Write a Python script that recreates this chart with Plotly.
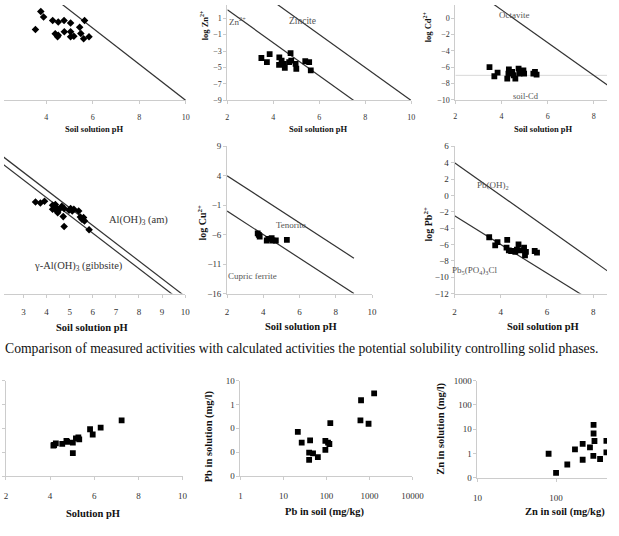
import plotly.graph_objects as go

W, H = 619, 536
FONT = "Liberation Serif, Times New Roman, serif"

# ---------------- data ----------------
# Panel 1 (top-left, ion activity vs pH, diamonds)
p1_ph = [3.77, 3.89, 4.28, 4.52, 4.77, 5.05, 5.65, 3.54, 4.39, 4.52, 4.78, 5.05, 5.44, 5.49, 5.05, 5.19, 5.61, 5.84, 4.49]
p1_log = [-0.42, -1.01, -1.37, -1.54, -1.37, -1.65, -1.37, -2.36, -2.81, -2.96, -2.60, -2.60, -2.11, -2.78, -3.13, -3.07, -3.34, -3.13, -3.13]
p1_line_ph = [2, 10]
p1_line_log = [5.6, -10]

# Panel 2 (log Zn2+)
zn_ph = [3.48, 3.72, 3.84, 4.26, 4.36, 4.25, 4.46, 4.50, 4.69, 4.78, 4.75, 4.97, 5.00, 5.39, 5.56, 5.63]
zn_log = [-3.85, -4.36, -3.37, -3.76, -4.17, -4.68, -4.56, -5.04, -4.36, -4.17, -3.25, -4.56, -5.15, -4.24, -4.36, -5.36]
zn_ion_ph = [2, 7.6]
zn_ion_log = [2.0, -9.2]
zincite_ph = [2, 10]
zincite_log = [7, -9]

# Panel 3 (log Cd2+)
cd_ph = [3.48, 3.83, 3.69, 4.32, 4.30, 4.25, 4.46, 4.53, 4.60, 4.74, 4.78, 4.98, 4.95, 5.38, 5.52, 5.45]
cd_log = [-5.99, -6.67, -7.11, -6.27, -6.79, -7.39, -6.59, -6.99, -7.39, -6.19, -6.79, -6.79, -6.39, -6.79, -6.91, -6.59]
octavite_ph = [2, 9.5]
octavite_log = [5, -10]
soilcd_ph = [2, 9]
soilcd_log = [-7, -7]

# Panel 4 (Al)
al_ph = [3.52, 3.73, 3.91, 4.26, 4.34, 4.40, 4.48, 4.55, 4.66, 4.76, 4.72, 4.76, 4.97, 5.04, 5.11, 5.18, 5.39, 5.46, 5.53, 5.60, 5.64, 5.84, 4.48, 4.26, 4.38]
al_log = [-4.50, -4.67, -4.39, -5.05, -5.60, -5.38, -6.05, -5.76, -5.22, -5.60, -6.99, -8.65, -5.93, -5.60, -6.05, -5.76, -6.05, -7.04, -7.42, -7.16, -7.71, -9.20, -6.33, -5.76, -4.93]
al_am_ph = [2, 10]
al_am_log = [3.5, -20.5]
gibbs_ph = [2, 9.5]
gibbs_log = [2.2, -20.3]

# Panel 5 (log Cu2+)
cu_ph = [3.69, 3.75, 3.80, 4.19, 4.28, 4.46, 4.51, 4.69, 5.30]
cu_log = [-5.78, -6.05, -6.33, -7.0, -6.72, -6.61, -7.0, -7.0, -6.89]
tenorite_ph = [2, 9]
tenorite_log = [4, -10]
cufer_ph = [2, 9]
cufer_log = [-2, -16]

# Panel 6 (log Pb2+)
pb_ph = [3.50, 3.76, 3.86, 4.28, 4.25, 4.35, 4.45, 4.63, 4.70, 4.77, 4.84, 5.01, 5.05, 5.09, 5.47, 5.57]
pb_log = [-5.12, -6.12, -5.72, -5.44, -6.40, -6.72, -6.80, -6.92, -6.64, -6.0, -6.72, -6.40, -7.32, -6.92, -6.80, -7.0]
pboh_ph = [2, 10]
pboh_log = [4, -12]
pyro_ph = [2, 7.65]
pyro_log = [-2.5, -12.4]

# Panel 7 (solution pH)
s_ph = [4.15, 4.26, 4.55, 4.74, 5.03, 5.03, 5.17, 5.28, 5.81, 5.93, 6.29, 7.24, 5.32, 4.18, 4.77]
s_val = [1.28, 1.37, 1.35, 1.47, 1.40, 0.96, 1.58, 1.62, 1.96, 1.74, 2.03, 2.33, 1.54, 1.30, 1.43]

# Panel 8 (Pb soil vs solution)
pb_soil = [21.6, 26.6, 41.7, 39.6, 39.6, 48.8, 63.1, 94.4, 94.4, 109, 117, 123, 638, 617, 953, 1286]
pb_sol = [0.071, 0.025, 0.031, 0.0095, 0.0048, 0.0089, 0.0062, 0.0295, 0.0124, 0.025, 0.022, 0.166, 1.50, 0.214, 0.155, 2.92]

# Panel 9 (Zn soil vs solution)
zn_soil = [80.4, 100, 139, 174, 218, 218, 270, 298, 300, 300, 308, 363, 437, 437]
zn_sol = [0.97, 0.158, 0.35, 1.48, 2.45, 0.55, 1.78, 0.80, 15.1, 6.6, 3.24, 0.59, 3.3, 1.1]

log_tickvals_pb = [0.001, 0.01, 0.1, 1, 10]
log_ticktext_pb = ["0", "0", "0", "1", "10"]
log_tickvals_zn = [0.1, 1, 10, 100, 1000]
log_ticktext_zn = ["0", "1", "10", "100", "1000"]
soil_ticks_pb = [1, 10, 100, 1000, 10000]
soil_ticks_zn = [10, 100, 1000]

caption = ("Comparison of measured activities with calculated activities the potential "
           "solubility controlling solid phases.")

# ---------------- helpers ----------------
def xd(a, b):
    return [max(0, a / W), min(1, b / W)]


def yd(top, bot):
    return [max(0, 1 - bot / H), min(1, 1 - top / H)]


AXC = "#cccccc"


def axis(domain, rng, size, tickvals=None, ticktext=None, typ="linear", anchor=None,
         showlabels=True, standoff=None, visible=True, showline=True):
    d = dict(domain=domain, range=rng, type=typ, showline=showline, linecolor=AXC, linewidth=1,
             ticks="outside" if showline else "", ticklen=3, tickcolor=AXC, showgrid=False,
             zeroline=False, showticklabels=showlabels, visible=visible,
             tickfont=dict(family=FONT, size=size, color="#333"), fixedrange=True)
    if tickvals is not None:
        d["tickmode"] = "array"
        d["tickvals"] = tickvals
        if ticktext is not None:
            d["ticktext"] = ticktext
    if anchor:
        d["anchor"] = anchor
    if standoff is not None:
        d["ticklabelstandoff"] = standoff
    return d


fig = go.Figure()
LC = "#333333"


def pts(x, y, xa, ya, sym, size):
    fig.add_trace(go.Scatter(x=x, y=y, xaxis=xa, yaxis=ya, mode="markers",
                             marker=dict(symbol=sym, size=size, color="black"),
                             showlegend=False, hoverinfo="skip"))


def line(x, y, xa, ya, color=LC, width=1.2):
    fig.add_trace(go.Scatter(x=x, y=y, xaxis=xa, yaxis=ya, mode="lines",
                             line=dict(color=color, width=width),
                             showlegend=False, hoverinfo="skip"))


# Panel 1
line(p1_line_ph, p1_line_log, "x", "y")
pts(p1_ph, p1_log, "x", "y", "diamond", 5.8)
# Panel 2
line(zn_ion_ph, zn_ion_log, "x2", "y2")
line(zincite_ph, zincite_log, "x2", "y2")
pts(zn_ph, zn_log, "x2", "y2", "square", 5.8)
# Panel 3
line(soilcd_ph, soilcd_log, "x3", "y3", color="#d8d8d8", width=1)
line(octavite_ph, octavite_log, "x3", "y3")
pts(cd_ph, cd_log, "x3", "y3", "square", 5.8)
# Panel 4
line(al_am_ph, al_am_log, "x4", "y4")
line(gibbs_ph, gibbs_log, "x4", "y4")
pts(al_ph, al_log, "x4", "y4", "diamond", 5.8)
# Panel 5
line(tenorite_ph, tenorite_log, "x5", "y5")
line(cufer_ph, cufer_log, "x5", "y5")
pts(cu_ph, cu_log, "x5", "y5", "square", 5.8)
# Panel 6
line(pboh_ph, pboh_log, "x6", "y6")
line(pyro_ph, pyro_log, "x6", "y6")
pts(pb_ph, pb_log, "x6", "y6", "square", 5.8)
# Panel 7
pts(s_ph, s_val, "x7", "y7", "square", 5.8)
# Panel 8
pts(pb_soil, pb_sol, "x8", "y8", "square", 5.8)
# Panel 9
pts(zn_soil, zn_sol, "x9", "y9", "square", 5.8)

layout = dict(
    width=W, height=H, margin=dict(l=0, r=0, t=0, b=0),
    paper_bgcolor="white", plot_bgcolor="white", showlegend=False,
    font=dict(family=FONT, color="#333"),
    # Panel 1
    xaxis=axis(xd(0, 186.7), [2.19, 10], 8, [4, 6, 8, 10], anchor="y", standoff=6),
    yaxis=axis(yd(0, 97.3), [-10, 0.29], 8, anchor="x", visible=False),
    # Panel 2
    xaxis2=axis(xd(229.3, 418), [2, 10], 8, [2, 4, 6, 8, 10], anchor="y2", standoff=6),
    yaxis2=axis(yd(0, 97.3), [-9, 2.58], 8, [-9, -7, -5, -3, -1, 1], anchor="x2"),
    # Panel 3
    xaxis3=axis(xd(463.3, 619), [2, 8.57], 8, [2, 4, 6, 8], anchor="y3", standoff=6),
    yaxis3=axis(yd(0, 96.7), [-10, 1.59], 8, [-10, -8, -6, -4, -2, 0], anchor="x3"),
    # Panel 4
    xaxis4=axis(xd(0, 186), [2.156, 10], 9, [3, 4, 5, 6, 7, 8, 9, 10], anchor="y4", standoff=7),
    yaxis4=axis(yd(138, 294), [-20, 5.9], 9, anchor="x4", visible=False),
    # Panel 5
    xaxis5=axis(xd(229, 377.8), [2, 10], 9, [2, 4, 6, 8, 10], anchor="y5", standoff=7),
    yaxis5=axis(yd(144, 294), [-16, 9], 9, [-16, -11, -6, -1, 4, 9], anchor="x5"),
    # Panel 6
    xaxis6=axis(xd(462.5, 619), [2, 8.6], 9, [2, 4, 6, 8], anchor="y6", standoff=7),
    yaxis6=axis(yd(144, 294), [-12, 6], 9, list(range(-12, 7, 2)), anchor="x6"),
    # Panel 7
    xaxis7=axis(xd(2, 183.3), [2, 10], 9, [2, 4, 6, 8, 10], anchor="y7", standoff=8),
    yaxis7=axis(yd(382.7, 480), [0, 4], 9, [0, 1, 2, 3, 4], anchor="x7", showlabels=False),
    # Panel 8
    xaxis8=axis(xd(242.7, 419.3), [0, 4], 9, soil_ticks_pb, [str(v) for v in soil_ticks_pb],
                typ="log", anchor="y8", standoff=8),
    yaxis8=axis(yd(382.7, 480), [-3, 1], 9, log_tickvals_pb, log_ticktext_pb, typ="log", anchor="x8"),
    # Panel 9
    xaxis9=axis(xd(486, 619), [1, 2.648], 9, soil_ticks_zn, [str(v) for v in soil_ticks_zn],
                typ="log", anchor="y9", standoff=8),
    yaxis9=axis(yd(382.7, 481.7), [-1, 3], 9, log_tickvals_zn, log_ticktext_zn, typ="log", anchor="x9"),
)
fig.update_layout(**layout)

ann = []


def txt(text, px, py, size, bold=False, angle=0, color="#111", xanchor="center"):
    ann.append(dict(text=("<b>%s</b>" % text) if bold else text, x=px / W, y=1 - py / H,
                    xref="paper", yref="paper", showarrow=False, textangle=angle,
                    xanchor=xanchor, yanchor="middle", borderpad=0, borderwidth=0,
                    font=dict(family=FONT, size=size, color=color)))


# axis titles
txt("Soil solution pH", 92.7, 126.7, 8.5, bold=True)
txt("Soil solution pH", 322, 126, 8.5, bold=True)
txt("Soil solution pH", 553, 126, 8.5, bold=True)
txt("Soil solution pH", 90, 328.3, 10.5, bold=True)
txt("Soil solution pH", 305, 328, 10.5, bold=True)
txt("Soil solution pH", 553, 328, 10.5, bold=True)
txt("Solution pH", 91, 518, 10.5, bold=True)
txt("Pb in soil (mg/kg)", 330, 516.7, 10.5, bold=True)
txt("Zn in soil (mg/kg)", 576, 516.7, 10.5, bold=True)

txt("log Zn<sup>2+</sup>", 206, 21, 8.5, bold=True, angle=-90)
txt("log Cd<sup>2+</sup>", 435, 22, 8.5, bold=True, angle=-90)
txt("log Cu<sup>2+</sup>", 203, 222, 10, bold=True, angle=-90)
txt("log Pb<sup>2+</sup>", 435, 224, 10, bold=True, angle=-90)
txt("Pb in solution (mg/l)", 210, 440, 10.5, bold=True, angle=-90)
txt("Zn in solution (mg/l)", 448.5, 432, 10.5, bold=True, angle=-90)

# phase labels
GRAY = "#555555"
txt("Zn<sup>2+</sup>", 240, 16.7, 9, color=GRAY)
txt("Zincite", 306, 16.7, 9.5, color=GRAY)
txt("Octavite", 524, 10, 9, color=GRAY)
txt("soil-Cd", 536, 92.7, 8.5, color=GRAY)
txt("Al(OH)<sub>3</sub> (am)", 138.5, 220, 10.5, color="#333")
txt("γ-Al(OH)<sub>3</sub> (gibbsite)", 76, 266.7, 10.5, color="#333")
txt("Tenorite", 295, 224.3, 9, color=GRAY)
txt("Cupric ferrite", 255, 275.7, 9, color=GRAY)
txt("Pb(OH)<sub>2</sub>", 502, 184, 9, color=GRAY)
txt("Pb<sub>5</sub>(PO<sub>4</sub>)<sub>3</sub>Cl", 484, 270.7, 9, color=GRAY)

# caption
txt(caption, 1.5, 350, 13.7, color="#111", xanchor="left")

fig.update_layout(annotations=ann)
fig.write_html("out.html")
